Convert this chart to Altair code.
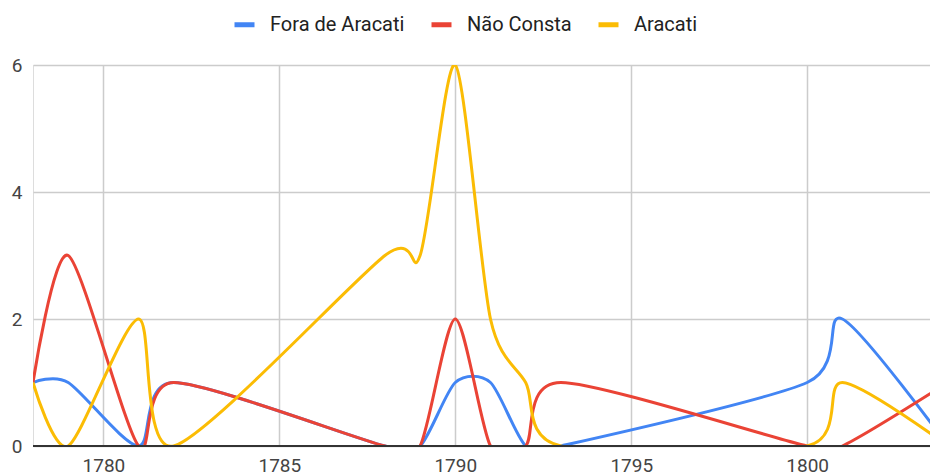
import altair as alt
import pandas as pd

years = [1778, 1779, 1781, 1782, 1788, 1789, 1790, 1791, 1792, 1793, 1800, 1801, 1804]
fora_de_aracati = [1, 1, 0, 1, 0, 0, 1, 1, 0, 0, 1, 2, 0]
nao_consta = [1, 3, 0, 1, 0, 0, 2, 0, 0, 1, 0, 0, 1]
aracati = [1, 0, 2, 0, 3, 3, 6, 2, 1, 0, 0, 1, 0]

series_names = ["Fora de Aracati", "Não Consta", "Aracati"]
series_colors = ["#4285F4", "#EA4335", "#FBBC04"]
x_ticks = [1780, 1785, 1790, 1795, 1800]
y_ticks = [0, 2, 4, 6]

rows = []
for name, vals in zip(series_names, [fora_de_aracati, nao_consta, aracati]):
    for yr, v in zip(years, vals):
        rows.append({"year": yr, "value": v, "series": name})
df = pd.DataFrame(rows)

FONT = "Roboto"

x_enc = alt.X(
    "year:Q",
    scale=alt.Scale(domain=[1778, 1803.49], nice=False, zero=False),
    axis=alt.Axis(values=x_ticks, format="d", title=None, grid=True, gridColor="#cccccc",
                  gridWidth=1.5, domain=False, ticks=False, labelFontSize=19, labelPadding=10,
                  labelColor="#444444", labelFont=FONT),
)
y_enc = alt.Y(
    "value:Q",
    scale=alt.Scale(domain=[0, 6], nice=False),
    axis=alt.Axis(values=y_ticks, format="d", title=None, grid=True, gridColor="#cccccc",
                  gridWidth=1.5, domain=False, ticks=False, labelFontSize=19, labelPadding=11,
                  labelColor="#444444", labelFont=FONT),
)

lines = alt.Chart(df).mark_line(interpolate="cardinal", tension=0.2, strokeWidth=3, clip=True).encode(
    x=x_enc,
    y=y_enc,
    color=alt.Color(
        "series:N",
        scale=alt.Scale(domain=series_names, range=series_colors),
        legend=alt.Legend(
            title=None, orient="none", direction="horizontal", legendX=199, legendY=-53,
            symbolType="stroke", symbolSize=400, symbolStrokeWidth=5,
            labelFontSize=20, labelFont=FONT, labelColor="#222222", labelOffset=13,
            columnPadding=16, labelLimit=0, padding=0,
        ),
    ),
    detail="series:N",
)

base = alt.Chart(pd.DataFrame({"y": [0]})).mark_rule(color="#333333", strokeWidth=2).encode(
    y=alt.Y("y:Q", scale=alt.Scale(domain=[0, 6]))
)

chart = alt.layer(lines, base).properties(
    width=897,
    height=381,
    autosize=alt.AutoSizeParams(type="none"),
    padding={"left": 25, "top": 57, "right": 0, "bottom": 26},
).configure_view(stroke=None).configure(font=FONT)

chart.save("out.html", embed_options={"renderer": "svg", "actions": False})
